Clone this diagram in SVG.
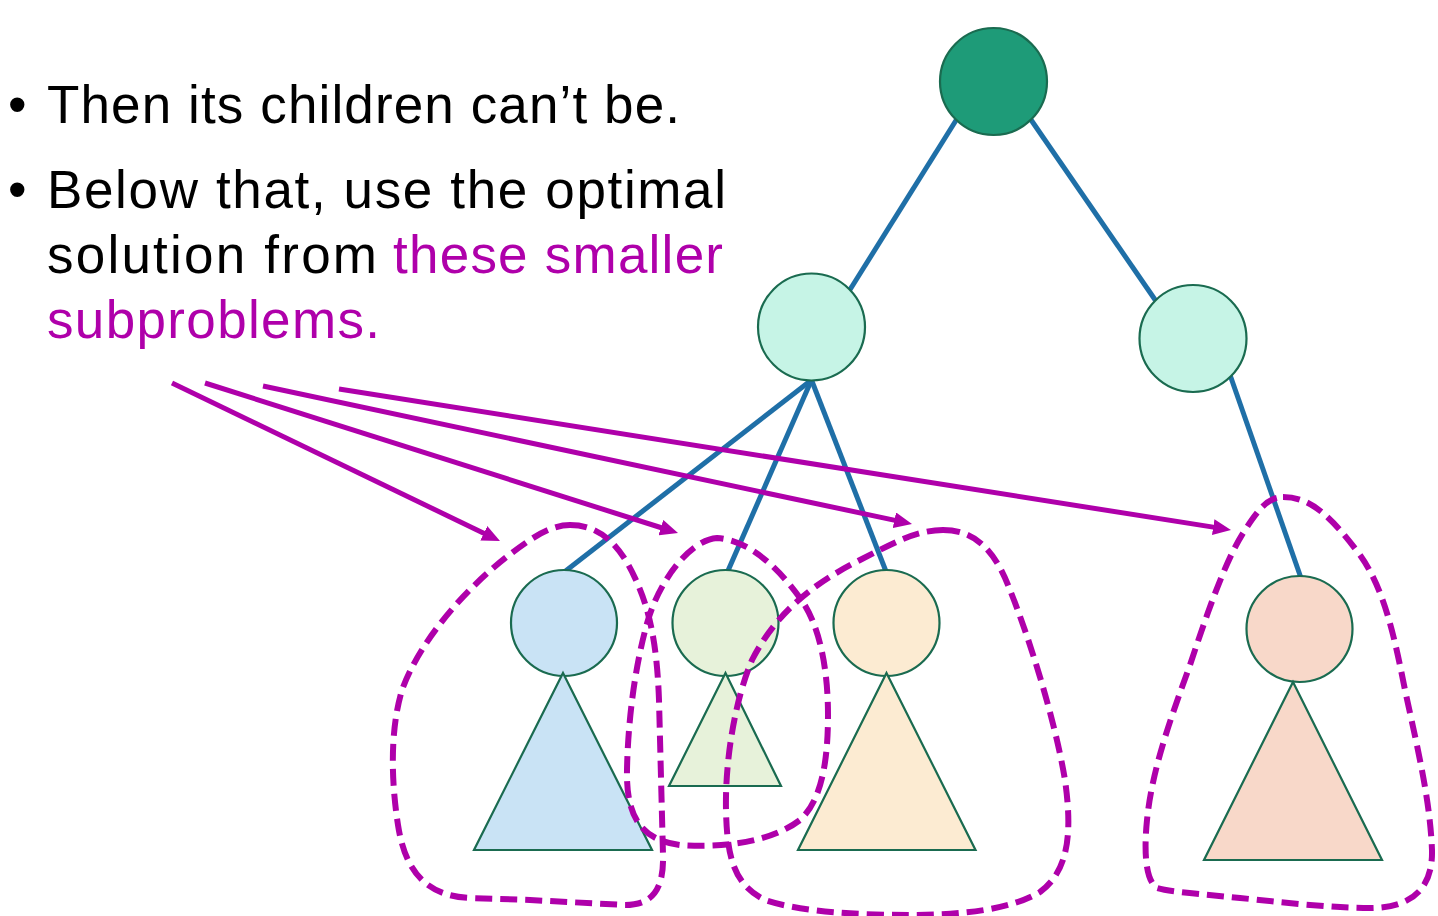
<svg xmlns="http://www.w3.org/2000/svg" width="1438" height="916" viewBox="0 0 1438 916">
<style>
.txt{font-family:"Liberation Sans",Arial,sans-serif;font-size:53px;fill:#000}
.mag{fill:#AF00AA}
.edge{stroke:#1F6FA7;stroke-width:5;fill:none}
.node{stroke:#1A6B50;stroke-width:2.2}
.blob{fill:none;stroke:#AF00AA;stroke-width:6;stroke-dasharray:17 8}
.arrow{stroke:#AF00AA;stroke-width:5;fill:none}
</style>
<defs>
<marker id="ah" markerUnits="userSpaceOnUse" markerWidth="18" markerHeight="16" viewBox="0 0 18 16" refX="8" refY="8" orient="auto">
<path d="M0,0 L18,8 L0,16 z" fill="#AF00AA"/>
</marker>
</defs>
<rect width="1438" height="916" fill="#fff"/>
<g id="text">
<text class="txt" x="8" y="123">•</text>
<text class="txt" x="47" y="123" textLength="633">Then its children can’t be.</text>
<text class="txt" x="8" y="208">•</text>
<text class="txt" x="47" y="208" textLength="679">Below that, use the optimal</text>
<text class="txt" x="47" y="273" textLength="330">solution from</text>
<text class="txt mag" x="393" y="273" textLength="330">these smaller</text>
<text class="txt mag" x="47" y="338" textLength="333">subproblems.</text>
</g>
<g id="edges">
<line class="edge" x1="960" y1="114" x2="846" y2="296"/>
<line class="edge" x1="1027" y1="114" x2="1158" y2="304"/>
<line class="edge" x1="811.5" y1="380" x2="563" y2="573"/>
<line class="edge" x1="811.5" y1="380" x2="727" y2="573"/>
<line class="edge" x1="811.5" y1="380" x2="887" y2="574"/>
<line class="edge" x1="1229" y1="372" x2="1301" y2="578"/>
</g>
<g id="root"><circle class="node" cx="993.5" cy="81.5" r="53.5" fill="#1E9B78"/></g>
<g id="mid-left"><circle class="node" cx="811.5" cy="327" r="53.5" fill="#C6F4E6"/></g>
<g id="mid-right"><circle class="node" cx="1193" cy="338.5" r="53.5" fill="#C6F4E6"/></g>
<g id="sub-blue">
<circle class="node" cx="564" cy="623" r="53" fill="#C9E3F5"/>
<polygon class="node" points="563,673 652,850 474,850" fill="#C9E3F5"/>
</g>
<g id="sub-green">
<circle class="node" cx="725.5" cy="623" r="53" fill="#E7F2DA"/>
<polygon class="node" points="725.5,673 781,786 669,786" fill="#E7F2DA"/>
</g>
<g id="sub-orange">
<circle class="node" cx="886.5" cy="623" r="53" fill="#FCEBD2"/>
<polygon class="node" points="886.5,673 975.5,850 798,850" fill="#FCEBD2"/>
</g>
<g id="sub-pink">
<circle class="node" cx="1299.5" cy="629" r="53" fill="#F8D8C9"/>
<polygon class="node" points="1293,682 1382,860 1204,860" fill="#F8D8C9"/>
</g>
<g id="groups">
<path class="blob" d="M570,525 C600,525 620,545 635,578 C650,610 657,645 659,700 L663,855 C664,890 652,905 625,905 L530,900 L470,898 C425,896 405,870 398,825 C391,780 390,730 402,690 C420,640 470,580 530,540 C545,530 558,525 570,525 Z"/>
<path class="blob" d="M717,538 C690,540 660,580 648,620 C635,665 628,720 627,770 C626,815 640,840 680,845 C720,848 770,843 800,820 C822,800 828,760 828,715 C828,670 820,625 800,598 C780,570 750,540 717,538 Z"/>
<path class="blob" d="M943,530 C975,530 995,550 1010,590 C1030,640 1055,720 1065,780 C1072,830 1070,870 1040,892 C1010,910 960,915 910,915 C860,915 800,912 765,900 C735,885 727,860 726,810 C725,760 735,700 752,660 C775,615 810,585 860,560 C890,545 915,530 943,530 Z"/>
<path class="blob" d="M1283,497 C1310,497 1330,515 1360,555 C1385,590 1395,640 1405,690 C1418,750 1430,800 1432,850 C1433,890 1410,908 1370,908 C1330,908 1280,902 1240,898 C1200,894 1170,892 1157,888 C1145,880 1144,850 1147,820 C1152,770 1170,720 1190,665 C1205,620 1225,560 1245,530 C1258,510 1268,497 1283,497 Z"/>
</g>
<g id="arrows">
<line class="arrow" x1="172" y1="383" x2="491" y2="536.7" marker-end="url(#ah)"/>
<line class="arrow" x1="205" y1="383" x2="668.5" y2="530" marker-end="url(#ah)"/>
<line class="arrow" x1="263" y1="386" x2="902.2" y2="521.9" marker-end="url(#ah)"/>
<line class="arrow" x1="339" y1="389" x2="1221.1" y2="528.4" marker-end="url(#ah)"/>
</g>
</svg>
